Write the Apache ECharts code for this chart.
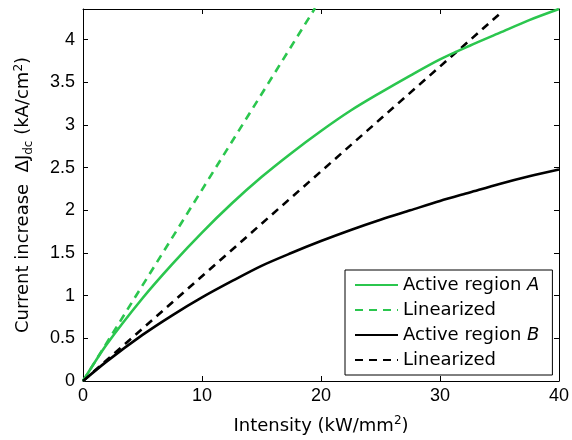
<!DOCTYPE html>
<html>
<head>
<meta charset="utf-8">
<script src="https://cdn.jsdelivr.net/npm/echarts@6/dist/echarts.min.js"></script>
<style>
  html, body { margin: 0; padding: 0; background: #fff; }
  #main { width: 572px; height: 440px; }
</style>
</head>
<body>
<div id="main"></div>
<script>
// values
var xA = [0, 2, 5, 7.5, 10, 12.5, 15, 17.5, 20, 22.5, 25, 27.5, 30, 32.5, 35, 37.5, 40];
var yA = [0, 0.43, 0.97, 1.37, 1.74, 2.08, 2.39, 2.67, 2.93, 3.17, 3.38, 3.58, 3.77, 3.93, 4.08, 4.23, 4.36];
var xB = [0, 2, 5, 7.5, 10, 12.5, 15, 17.5, 20, 22.5, 25, 27.5, 30, 32.5, 35, 37.5, 40];
var yB = [0, 0.23, 0.54, 0.77, 0.98, 1.17, 1.35, 1.50, 1.64, 1.77, 1.89, 2.00, 2.11, 2.21, 2.31, 2.40, 2.48];
var xLinA = [0, 19.5];
var yLinA = [0, 4.37];
var xLinB = [0, 35];
var yLinB = [0, 4.30];
var names = ['Active region A', 'Linearized ', 'Active region B', 'Linearized'];

var green = '#2bc64e';
var font = 'DejaVu Sans, sans-serif';
var numFont = 'Liberation Sans, Arial, sans-serif';

function pairs(xs, ys) {
  var out = [];
  for (var i = 0; i < xs.length; i++) out.push([xs[i], ys[i]]);
  return out;
}

var chart = echarts.init(document.getElementById('main'));

var frameLine = { show: true, onZero: false, lineStyle: { color: '#000', width: 1 } };
var tick = { show: true, inside: true, length: 5, lineStyle: { color: '#000', width: 1 } };

var option = {
  animation: false,
  backgroundColor: '#fff',
  textStyle: { fontFamily: font },
  grid: { left: 83, right: 11, top: 9, bottom: 59 },
  legend: {
    orient: 'vertical',
    left: 345,
    top: 270,
    backgroundColor: '#fff',
    borderColor: '#000',
    borderWidth: 1,
    borderRadius: 0,
    padding: [6, 13, 6, 9],
    itemWidth: 43,
    itemHeight: 18,
    itemGap: 7,
    itemStyle: { opacity: 0 },
    data: names,
    formatter: function (name) {
      if (name === 'Active region A') return 'Active region {i|A}';
      if (name === 'Active region B') return 'Active region {i|B}';
      return 'Linearized';
    },
    textStyle: {
      fontSize: 18, color: '#000', fontFamily: font,
      rich: { i: { fontSize: 18, fontStyle: 'italic', fontFamily: font, color: '#000' } }
    }
  },
  xAxis: [{
    type: 'value', min: 0, max: 40, interval: 10,
    position: 'bottom',
    name: 'Intensity (kW/mm{sup|2})',
    nameLocation: 'middle',
    nameGap: 34,
    nameTextStyle: {
      fontSize: 18, color: '#000', fontFamily: font,
      rich: { sup: { fontSize: 12, padding: [0, 0, 10, 0], color: '#000', fontFamily: font } }
    },
    axisLine: frameLine, axisTick: tick,
    axisLabel: { fontSize: 18, color: '#000', margin: 6, fontFamily: numFont },
    splitLine: { show: false }
  }, {
    type: 'value', min: 0, max: 40, interval: 10,
    position: 'top',
    axisLine: frameLine, axisTick: tick,
    axisLabel: { show: false },
    splitLine: { show: false }
  }],
  yAxis: [{
    type: 'value', min: 0, max: 4.36, interval: 0.5,
    position: 'left',
    name: 'Current increase  \u0394J{sub|dc} (kA/cm{sup|2})',
    nameLocation: 'middle',
    nameGap: 48,
    nameTextStyle: {
      fontSize: 18, color: '#000', fontFamily: font,
      rich: {
        sub: { fontSize: 12, padding: [11, 0, 0, 0], color: '#000', fontFamily: font },
        sup: { fontSize: 12, padding: [0, 0, 10, 0], color: '#000', fontFamily: font }
      }
    },
    axisLine: frameLine, axisTick: tick,
    axisLabel: {
      fontSize: 18, color: '#000', margin: 8, fontFamily: numFont,
      formatter: function (v) {
        if (Math.abs(v / 0.5 - Math.round(v / 0.5)) > 1e-6) return '';
        return String(Math.round(v * 10) / 10);
      }
    },
    splitLine: { show: false }
  }, {
    type: 'value', min: 0, max: 4.36, interval: 0.5,
    position: 'right',
    axisLine: frameLine, axisTick: tick,
    axisLabel: { show: false },
    splitLine: { show: false }
  }],
  series: [{
    name: names[0], type: 'line', symbol: 'none', smooth: 0.3,
    xAxisIndex: 0, yAxisIndex: 0, z: 3,
    lineStyle: { color: green, width: 2.6 }, itemStyle: { color: green },
    data: pairs(xA, yA)
  }, {
    name: names[1], type: 'line', symbol: 'none',
    xAxisIndex: 0, yAxisIndex: 0, z: 2,
    lineStyle: { color: green, width: 2.6, type: [8, 6] }, itemStyle: { color: green },
    data: pairs(xLinA, yLinA)
  }, {
    name: names[2], type: 'line', symbol: 'none', smooth: 0.3,
    xAxisIndex: 0, yAxisIndex: 0, z: 3,
    lineStyle: { color: '#000', width: 2.6 }, itemStyle: { color: '#000' },
    data: pairs(xB, yB)
  }, {
    name: names[3], type: 'line', symbol: 'none',
    xAxisIndex: 0, yAxisIndex: 0, z: 2,
    lineStyle: { color: '#000', width: 2.6, type: [8, 6] }, itemStyle: { color: '#000' },
    data: pairs(xLinB, yLinB)
  }]
};

chart.setOption(option);
</script>
</body>
</html>
